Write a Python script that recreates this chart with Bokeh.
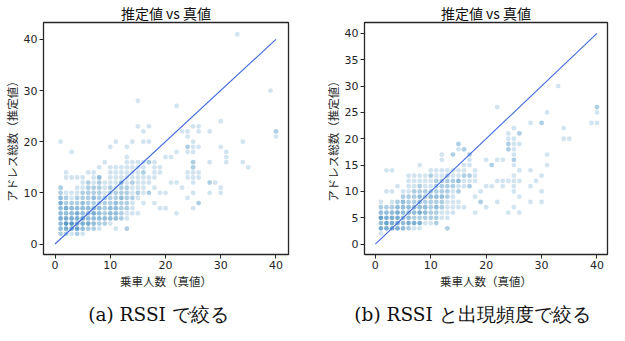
from bokeh.plotting import figure
from bokeh.models import Range1d, FixedTicker, ColumnDataSource
from bokeh.layouts import column, row
from bokeh.core.properties import value
from bokeh.embed import file_html
from bokeh.resources import INLINE

# ---- data: (true count, estimated count, number of overlapping observations) ----
a_points = [
    (1,2,2),(2,2,2),(3,2,1),(4,2,2),(5,2,1),
    (1,3,3),(2,3,4),(3,3,4),(4,3,5),(5,3,3),(6,3,2),(7,3,2),(8,3,1),(11,3,1),(13,3,2),
    (1,4,3),(2,4,6),(3,4,6),(4,4,4),(5,4,4),(6,4,4),(7,4,3),(8,4,2),(9,4,2),(10,4,1),
    (1,5,4),(2,5,4),(3,5,4),(4,5,4),(5,5,4),(6,5,3),(7,5,3),(8,5,3),(9,5,3),(10,5,3),(11,5,3),(12,5,2),(13,5,1),
    (1,6,3),(2,6,3),(3,6,3),(4,6,4),(5,6,3),(6,6,3),(7,6,4),(8,6,3),(9,6,2),(10,6,3),(11,6,3),(12,6,2),(13,6,1),(14,6,1),
    (1,7,3),(2,7,4),(3,7,3),(4,7,3),(5,7,3),(6,7,3),(7,7,3),(8,7,3),(9,7,2),(10,7,3),(11,7,3),(12,7,2),(13,7,2),(14,7,1),
    (1,8,4),(2,8,2),(3,8,2),(4,8,2),(5,8,3),(6,8,2),(7,8,2),(8,8,2),(9,8,2),(10,8,2),(11,8,3),(12,8,2),(13,8,2),(14,8,1),
    (1,9,3),(2,9,2),(3,9,1),(4,9,2),(5,9,2),(6,9,2),(7,9,3),(8,9,2),(9,9,2),(10,9,2),(11,9,2),(12,9,3),(13,9,2),(14,9,2),
    (1,10,2),(2,10,1),(3,10,1),(4,10,1),(5,10,2),(6,10,2),(7,10,2),(8,10,2),(9,10,1),(10,10,2),(11,10,2),(12,10,2),(13,10,2),(14,10,1),
    (1,11,2),(4,11,1),(5,11,1),(6,11,2),(7,11,2),(8,11,2),(9,11,1),(10,11,2),(11,11,1),(12,11,2),(13,11,2),(14,11,1),
    (5,12,1),(6,12,2),(7,12,1),(8,12,2),(9,12,1),(10,12,1),(11,12,1),(12,12,3),(13,12,1),(14,12,2),
    (2,13,1),(3,13,1),(4,13,1),(5,13,1),(7,13,1),(8,13,3),(10,13,1),(11,13,1),(12,13,1),(13,13,1),(14,13,1),
    (2,14,1),(6,14,1),(7,14,1),(10,14,1),(11,14,1),(12,14,1),(13,14,1),(14,14,1),
    (8,15,1),(10,15,1),(11,15,1),(12,15,1),(13,15,1),(14,15,1),
    (9,16,1),(13,16,1),(14,16,1),(13,17,1),(3,18,1),(10,19,1),(13,19,1),
    (1,20,1),(11,20,1),(14,20,1),
    (15,6,1),(22,6,1),(19,7,1),(20,7,1),(25,7,1),(16,8,1),(18,8,1),(26,8,2),(15,9,1),(24,9,1),
    (15,10,2),(16,10,1),(17,10,2),(19,10,1),(20,10,1),(25,10,1),(28,10,1),(30,10,1),
    (15,11,1),(16,11,1),(18,11,1),(23,11,1),(30,11,1),
    (15,12,1),(16,12,1),(17,12,1),(21,12,1),(22,12,1),(25,12,1),(28,12,2),(29,12,1),
    (15,13,1),(16,13,1),(17,13,1),(18,13,1),(24,13,1),(25,13,1),(26,13,1),
    (15,14,1),(16,14,2),(18,14,1),(19,14,1),(24,14,1),(25,14,1),(26,14,1),
    (15,15,1),(16,15,1),(18,15,1),(19,15,1),(25,15,2),(35,15,1),
    (15,16,1),(16,16,1),(17,16,2),(18,16,1),(25,16,2),(28,16,1),(31,16,1),(34,16,1),
    (20,17,1),(21,17,1),(31,17,1),(22,18,1),(24,18,1),(25,18,1),(31,18,1),
    (24,19,2),(25,19,1),(26,19,1),(30,19,1),
    (16,20,1),(17,20,1),(25,20,1),(34,20,1),(24,21,1),(40,21,1),
    (16,22,1),(23,22,1),(24,22,1),(26,22,1),(28,22,1),(40,22,2),
    (15,23,1),(17,23,1),(25,23,1),(26,23,1),(30,24,1),(22,27,1),(15,28,1),(39,30,1),(33,41,1),
]

b_points = [
    (1,2,1),
    (1,3,4),(2,3,4),(3,3,4),(4,3,4),(5,3,3),(6,3,2),(7,3,1),(8,3,1),(13,3,2),
    (1,4,3),(2,4,5),(3,4,4),(4,4,4),(5,4,3),(6,4,4),(7,4,4),(8,4,4),(9,4,1),(10,4,1),(11,4,2),
    (1,5,5),(2,5,4),(3,5,4),(4,5,4),(5,5,3),(6,5,3),(7,5,2),(8,5,2),(9,5,2),(10,5,2),(11,5,2),(12,5,1),(13,5,1),
    (1,6,3),(2,6,3),(3,6,3),(4,6,4),(5,6,3),(6,6,3),(7,6,3),(8,6,4),(9,6,3),(10,6,2),(11,6,2),(12,6,1),(13,6,1),(14,6,1),
    (1,7,2),(2,7,2),(3,7,2),(4,7,3),(5,7,3),(6,7,3),(7,7,3),(8,7,3),(9,7,3),(10,7,2),(11,7,3),(12,7,2),(13,7,1),(14,7,1),
    (1,8,1),(3,8,1),(4,8,2),(5,8,3),(6,8,2),(7,8,2),(8,8,3),(9,8,2),(10,8,2),(11,8,2),(12,8,2),(13,8,1),(14,8,1),
    (5,9,2),(6,9,2),(7,9,2),(8,9,3),(9,9,2),(10,9,3),(11,9,3),(12,9,3),(13,9,2),(14,9,1),
    (2,10,1),(3,10,1),(5,10,1),(6,10,1),(7,10,2),(8,10,2),(9,10,2),(10,10,2),(11,10,2),(12,10,2),(13,10,2),(14,10,1),
    (4,11,1),(6,11,1),(7,11,1),(8,11,2),(9,11,1),(10,11,1),(11,11,2),(12,11,2),(13,11,2),(14,11,2),
    (6,12,1),(7,12,1),(8,12,1),(9,12,1),(10,12,1),(11,12,2),(12,12,2),(13,12,2),(14,12,2),
    (6,13,1),(7,13,1),(8,13,1),(9,13,1),(10,13,2),(11,13,1),(12,13,1),(13,13,2),(14,13,1),
    (2,14,1),(3,14,1),(10,14,1),(11,14,1),(12,14,1),(13,14,1),(14,14,1),
    (8,15,1),(12,16,1),(12,17,1),(14,17,2),
    (18,6,1),(24,6,1),(26,6,1),(15,7,1),(16,7,1),(20,7,1),(25,7,1),
    (15,8,1),(19,8,2),(22,8,1),(28,8,1),(30,8,1),(18,9,1),(26,9,1),
    (15,10,2),(19,10,1),(25,10,1),(30,10,1),
    (15,11,1),(16,11,1),(17,11,2),(20,11,1),(21,11,1),(23,11,1),(25,11,1),(28,11,1),
    (15,12,3),(16,12,1),(17,12,1),(18,12,1),(22,12,1),(23,12,1),(24,12,1),(25,12,1),(26,12,1),(29,12,1),
    (15,13,1),(16,13,2),(17,13,2),(18,13,1),(25,13,1),(30,13,1),
    (15,14,1),(16,14,1),(18,14,1),(26,14,1),(28,14,1),
    (16,15,1),(17,15,1),(21,15,2),(25,15,1),(31,15,1),
    (17,16,1),(20,16,1),(22,16,1),(23,16,1),(25,16,2),
    (17,17,2),(25,17,1),(31,17,1),(15,18,1),(16,18,2),(24,18,2),(25,18,1),
    (15,19,2),(24,19,2),(25,19,1),(26,19,1),
    (24,20,1),(25,20,1),(34,20,1),(35,20,1),(24,21,1),(26,21,2),(25,22,1),(34,22,1),
    (28,23,1),(30,23,2),(39,23,1),(40,23,1),(31,25,1),(40,25,1),(22,26,1),(40,26,2),(33,30,1),
]

diag = [0, 40]
x_ticks = [0, 10, 20, 30, 40]
a_y_ticks = [0, 10, 20, 30, 40]
b_y_ticks = [0, 5, 10, 15, 20, 25, 30, 35, 40]
title_text = "推定値 vs 真値"
x_label = "乗車人数（真値）"
y_label = "アドレス総数（推定値）"
captions = ["(a) RSSI で絞る", "(b) RSSI と出現頻度で絞る"]
caption_x = [158, 472]

DOT = "#1f77b4"
LINE = "#4169e1"
INK = "#262626"
CJK = "Noto Sans CJK JP"
FIG_H = 291


def panel(points, xr, yr, yticks, width, left, right):
    p = figure(width=width, height=FIG_H, x_range=Range1d(*xr), y_range=Range1d(*yr),
               output_backend="svg", toolbar_location=None,
               min_border_left=left, min_border_right=right,
               min_border_top=6, min_border_bottom=20)
    p.title.text = title_text
    p.title.align = "center"
    p.title.text_font = CJK
    p.title.text_font_size = "14px"
    p.title.text_font_style = "normal"
    p.title.text_color = "#111111"
    p.title.standoff = 0
    p.title.offset = 0
    src = ColumnDataSource(dict(
        x=[t[0] for t in points], y=[t[1] for t in points],
        a=[1 - 0.8 ** t[2] for t in points]))
    p.scatter("x", "y", source=src, size=4.8, fill_color=DOT, fill_alpha="a", line_color=None)
    p.line(diag, diag, line_color=LINE, line_width=1.1)
    p.grid.visible = False
    p.outline_line_color = INK
    p.outline_line_width = 1.3
    p.outline_line_alpha = 1
    for ax, ticks, lab in ((p.xaxis[0], x_ticks, x_label), (p.yaxis[0], yticks, y_label)):
        ax.ticker = FixedTicker(ticks=ticks)
        ax.axis_line_color = None
        ax.major_tick_in = 0
        ax.major_tick_out = 4
        ax.major_tick_line_color = INK
        ax.minor_tick_line_color = None
        ax.major_label_text_font = "DejaVu Sans"
        ax.major_label_text_font_size = "11px"
        ax.major_label_text_color = INK
        ax.major_label_standoff = 2
        ax.axis_label = lab
        ax.axis_label_text_font = CJK
        ax.axis_label_text_font_size = "11.5px"
        ax.axis_label_text_font_style = "normal"
        ax.axis_label_text_color = INK
        ax.axis_label_standoff = 1
    return p


pa = panel(a_points, (-2.09, 42.27), (-2.05, 43.3), a_y_ticks, 315, 41, 27)
pb = panel(b_points, (-1.96, 41.9), (-1.96, 42.05), b_y_ticks, 294, 49, 2)

cap = figure(width=609, height=325 - FIG_H, x_range=Range1d(0, 609), y_range=Range1d(0, 325 - FIG_H),
             output_backend="svg", toolbar_location=None,
             min_border=0, outline_line_color=None)
cap.axis.visible = False
cap.grid.visible = False
cap.text(x=caption_x, y=[11, 11], text=captions,
         text_font=value("DejaVu Serif"), text_font_size="18.5px",
         text_align="center", text_baseline="middle", text_color="#111111")

layout = column(row(pa, pb), cap)
open("out.html", "w").write(file_html(layout, INLINE))
